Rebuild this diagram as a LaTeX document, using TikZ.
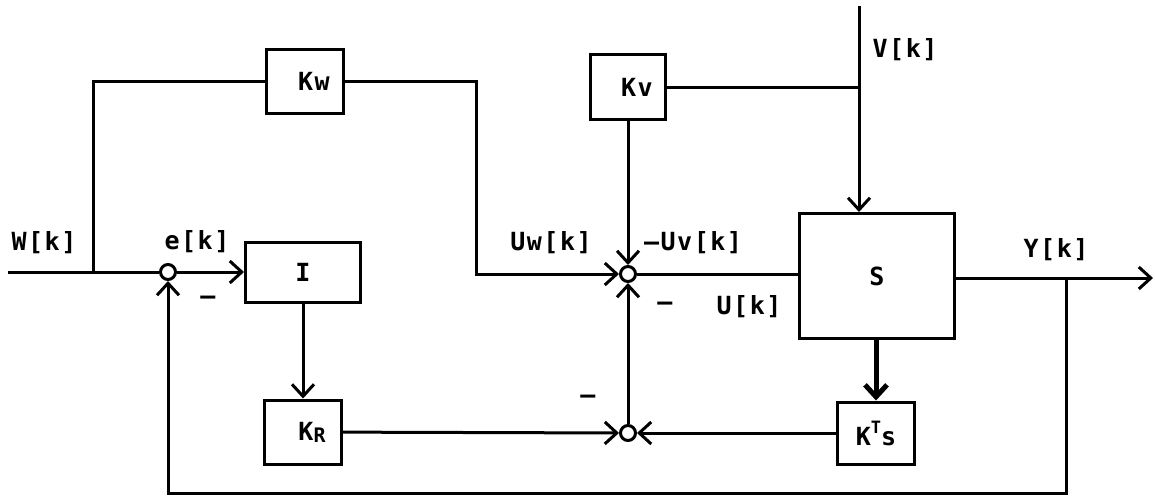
\documentclass[tikz,border=0pt]{standalone}
\usepackage{fontspec}
\usetikzlibrary{arrows.meta}
\newfontfamily\plotfont[LetterSpace=6]{DejaVu Sans Mono}
\tikzset{
  wire/.style={line width=3pt},
  block/.style={draw,line width=3pt,fill=white,inner sep=0pt,font=\plotfont\bfseries\fontsize{25}{28}\selectfont},
  sumpt/.style={circle,draw,line width=3pt,fill=white,minimum size=15pt,inner sep=0pt},
  lbl/.style={font=\plotfont\bfseries\fontsize{25}{28}\selectfont,inner sep=0pt}
}

\begin{document}
\begin{tikzpicture}[x=1pt,y=-1pt,>={Straight Barb[length=12pt,width=22pt]}]
  \useasboundingbox (0,0) rectangle (1155,498);
  \node[block,minimum width=77pt,minimum height=64pt] (kw) at (305,81) {\hspace*{18pt}Kw};
  \node[block,minimum width=75pt,minimum height=65pt] (kv) at (628,87) {\hspace*{18pt}Kv};
  \node[block,minimum width=115pt,minimum height=60pt] (int) at (303,272) {I};
  \node[block,minimum width=77pt,minimum height=64pt] (kr) at (303,432) {\hspace*{18pt}K\raisebox{-2pt}{\fontsize{20}{20}\selectfont R}};
  \node[block,minimum width=155pt,minimum height=125pt] (sys) at (877,276) {S};
  \node[block,minimum width=77pt,minimum height=62pt] (kts) at (876,433) {K\raisebox{12pt}{\fontsize{17}{17}\selectfont T}s};
  \node[sumpt] (j1) at (168,272) {};
  \node[sumpt] (j2) at (628,274) {};
  \node[sumpt] (j3) at (628,433) {};
  \coordinate (win) at (8,272);
  \coordinate (wb) at (93,272);
  \coordinate (uwc) at (476,274);
  \coordinate (vin) at (859,6);
  \coordinate (yout) at (1153,278);
  \coordinate (fb) at (1066,278);
  \coordinate (fbc) at (1066,493);
  \draw[wire] (win) -- (j1);
  \draw[wire] (wb) |- (kw.west);
  \draw[wire,->] (kw.east) -| (uwc) -- (j2);
  \draw[wire] (kv.east) -- (kv.east -| vin);
  \draw[wire,->] (vin) -- (vin |- sys.north);
  \draw[wire,->] (kv) -- (j2);
  \draw[wire,->] (j1) -- (int);
  \draw[wire,->] (int) -- (kr);
  \draw[wire,->] (kr) -- (j3);
  \draw[wire,->] (kts) -- (j3);
  \draw[wire,->] (j3) -- (j2);
  \draw[wire] (j2) -- (j2 -| sys.west);
  \draw[wire,->] (sys.east |- yout) -- (yout);
  \draw[wire,->] (fb) -- (fbc) -| (j1);
  \draw[wire,line width=5pt,->] (sys.south -| kts) -- (kts);
  \node[lbl] (wlab) at (44,243) {W[k]};
  \node[lbl] (elab) at (197,242) {e[k]};
  \node[lbl] (m1) at (208,300) {–};
  \node[lbl] (uwlab) at (551,243) {Uw[k]};
  \node[lbl] (uvlab) at (693,243) {–Uv[k]};
  \node[lbl] (m2) at (665,306) {–};
  \node[lbl] (ulab) at (749,307) {U[k]};
  \node[lbl] (m3) at (588,399) {–};
  \node[lbl] (vlab) at (905,50) {V[k]};
  \node[lbl] (ylab) at (1056,250) {Y[k]};
\end{tikzpicture}
\end{document}
